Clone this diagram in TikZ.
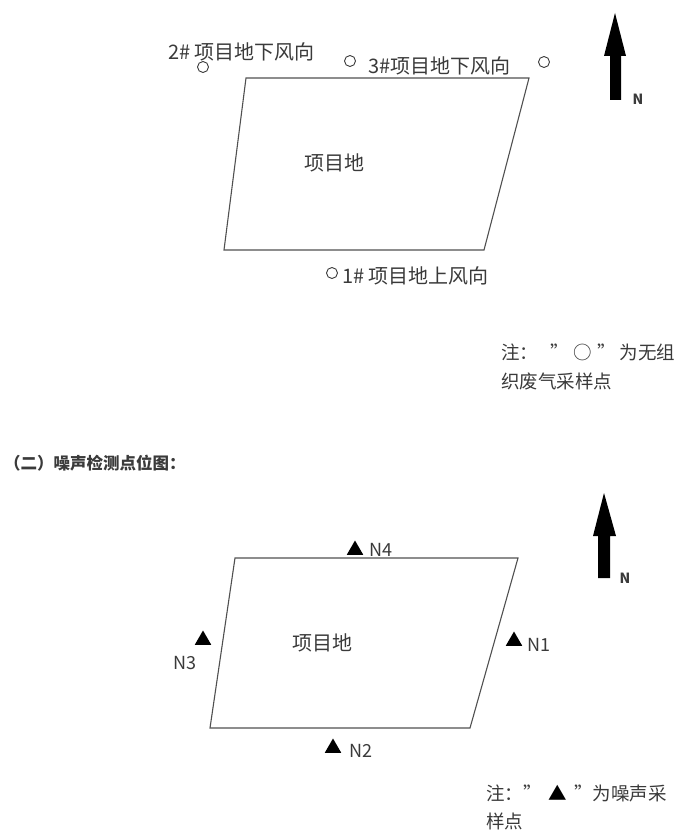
\documentclass[tikz,border=0pt]{standalone}
\usepackage{fontspec}
\setmainfont{Noto Sans CJK SC}
\usetikzlibrary{shapes.geometric}
\definecolor{txt}{HTML}{3A3A3A}
\definecolor{edge}{HTML}{505050}
\begin{document}
\begin{tikzpicture}[x=1pt,y=-1pt,
  lbl/.style={font=\fontsize{20}{20}\selectfont, text=txt, inner sep=0pt},
  notel/.style={font=\fontsize{18.5}{18.5}\selectfont, text=txt, inner sep=0pt},
  nlbl/.style={font=\fontsize{18}{18}\selectfont, text=txt, inner sep=0pt},
  ring/.style={circle, draw=txt, line width=0.9pt, minimum size=11pt, inner sep=0pt},
  tri/.style={regular polygon, regular polygon sides=3, fill=black, minimum size=19pt, inner sep=0pt},
  site/.style={draw=edge, line width=1.1pt},
  northarrow/.style={fill=black},
]
\useasboundingbox (0,0) rectangle (683,832);

% ---------- top diagram ----------
\coordinate (a1) at (246,78);
\coordinate (a2) at (529,78);
\coordinate (a3) at (484,250);
\coordinate (a4) at (224,250);
\draw[site] (a1) -- (a2) -- (a3) -- (a4) -- cycle;
\node[lbl] (siteA) at (334,163) {项目地};

\node[ring] (c2) at (203,67) {};
\node[ring] (c3) at (350,61) {};
\node[ring] (c3b) at (544,62) {};
\node[ring] (c1) at (332,273) {};

\node[lbl, anchor=west] (l2) at (168,52) {2\# 项目地下风向};
\node[lbl, anchor=west] (l3) at (368,66) {3\#项目地下风向};
\node[lbl, anchor=west] (l1) at (342,276) {1\# 项目地上风向};

% north arrow (top)
\fill[northarrow] (615,13) -- (626,56) -- (621,56) -- (621,100) -- (610,100) -- (610,56) -- (604,56) -- cycle;
\node[font=\fontsize{14}{14}\selectfont\bfseries, text=txt, inner sep=0pt] (nA) at (638,99) {N};

% note (top)
\node[notel, anchor=west] (noteA1) at (501,352) {注：\hspace{12pt}”\hspace{5pt}○\hspace{5pt}”\hspace{4pt}为无组};
\node[notel, anchor=west] (noteA2) at (501,381) {织废气采样点};

% section title
\node[font=\fontsize{16.5}{16.5}\selectfont\bfseries, text=txt, inner sep=0pt, anchor=west] (title) at (4,463) {（二）噪声检测点位图：};

% ---------- bottom diagram ----------
\coordinate (b1) at (235,558);
\coordinate (b2) at (518,558);
\coordinate (b3) at (470,728);
\coordinate (b4) at (210,728);
\draw[site] (b1) -- (b2) -- (b3) -- (b4) -- cycle;
\node[lbl] (siteB) at (322,643) {项目地};

\node[tri] (t4) at (355,550) {};
\node[tri] (t1) at (514,641) {};
\node[tri] (t3) at (203,640) {};
\node[tri] (t2) at (333,748) {};

\node[nlbl, anchor=west] (n4) at (369,550) {N4};
\node[nlbl, anchor=west] (n1) at (527,645) {N1};
\node[nlbl, anchor=west] (n3) at (173,663) {N3};
\node[nlbl, anchor=west] (n2) at (349,751) {N2};

% north arrow (bottom)
\fill[northarrow] (604,493) -- (616,536) -- (610,536) -- (610,578) -- (598,578) -- (598,536) -- (593,536) -- cycle;
\node[font=\fontsize{14}{14}\selectfont\bfseries, text=txt, inner sep=0pt] (nB) at (625,578) {N};

% note (bottom)
\node[notel, anchor=west] (noteB1) at (486,793) {注：”\hspace{7pt}{\color{black}▲}\hspace{7pt}”为噪声采};
\node[notel, anchor=west] (noteB2) at (486,821) {样点};
\end{tikzpicture}
\end{document}
